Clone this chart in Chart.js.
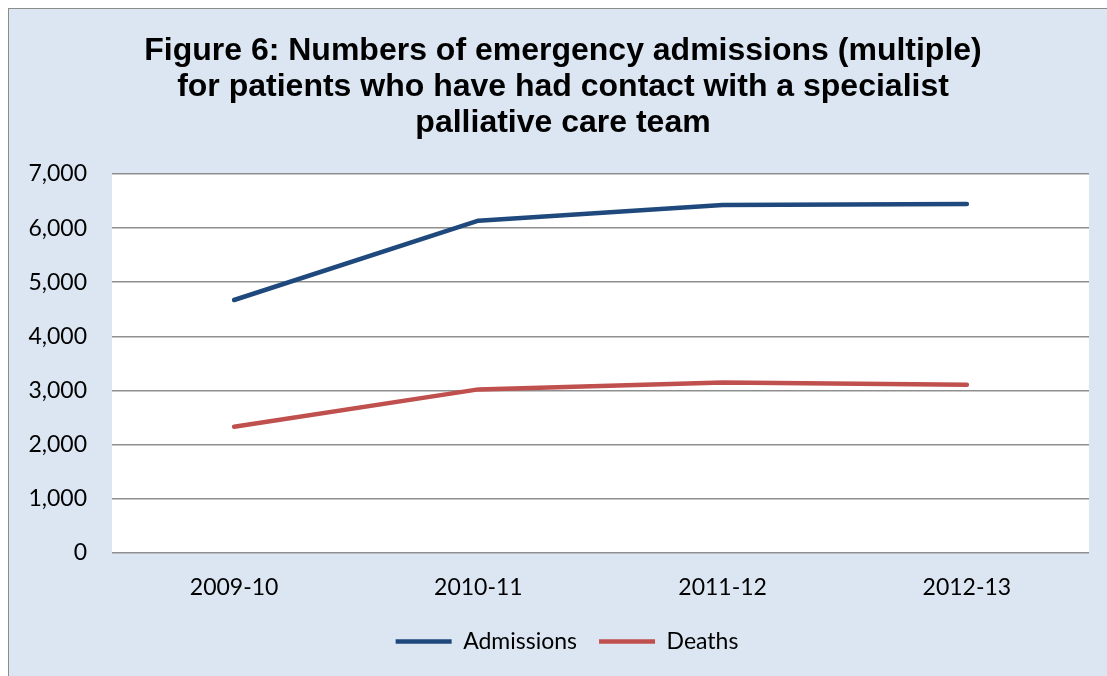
<!DOCTYPE html>
<html>
<head>
<meta charset="utf-8">
<script src="https://cdn.jsdelivr.net/npm/chart.js@4/dist/chart.umd.min.js"></script>
<style>
  html, body { margin: 0; padding: 0; background: #fff; overflow: hidden; }
  #wrap {
    position: absolute; left: 8px; top: 8px;
    width: 1099px; height: 668px;
    background: #dce6f2;
    border-left: 1px solid #8c8c8c; border-top: 1px solid #8c8c8c;
    box-sizing: border-box;
  }
</style>
</head>
<body>
<div id="wrap"><canvas id="chart" width="1098" height="667"></canvas></div>
<script>
// 데이터 ======================================
const years = ["2009-10", "2010-11", "2011-12", "2012-13"];
const admissions = [4673, 6138, 6428, 6446];
const deaths = [2333, 3022, 3151, 3109];
const titleLines = [
  "Figure 6: Numbers of emergency admissions (multiple)",
  "for patients who have had contact with a specialist",
  "palliative care team",
];

// 플롯 영역 흰 배경
const plotBg = {
  id: "plotBg",
  beforeDraw(chart) {
    const a = chart.chartArea;
    const ctx = chart.ctx;
    ctx.save();
    ctx.fillStyle = "#ffffff";
    ctx.fillRect(a.left, a.top, a.right - a.left, a.bottom - a.top);
    ctx.restore();
  },
};

// 제목/범례를 원본처럼 약간 오른쪽으로
const boxShift = {
  id: "boxShift",
  afterLayout(chart) {
    if (chart.titleBlock) {
      chart.titleBlock.left = 28;
      chart.titleBlock.right = chart.chartArea.right;
    }
    if (chart.legend) {
      chart.legend.left = 36;
      chart.legend.right = chart.chartArea.right;
    }
  },
};

const ctx = document.getElementById("chart").getContext("2d");
new Chart(ctx, {
  type: "line",
  data: {
    labels: years,
    datasets: [
      {
        label: "Admissions",
        data: admissions,
        borderColor: "#1f497d",
        backgroundColor: "#1f497d",
        borderWidth: 4.5,
        borderCapStyle: "round",
        borderJoinStyle: "round",
        pointRadius: 0,
        pointStyle: "line",
        tension: 0,
      },
      {
        label: "Deaths",
        data: deaths,
        borderColor: "#c0504d",
        backgroundColor: "#c0504d",
        borderWidth: 4.5,
        borderCapStyle: "round",
        borderJoinStyle: "round",
        pointRadius: 0,
        pointStyle: "line",
        tension: 0,
      },
    ],
  },
  options: {
    responsive: false,
    animation: false,
    layout: { padding: { top: 0, right: 18, bottom: 13, left: 0 } },
    plugins: {
      title: {
        display: true,
        text: titleLines,
        color: "#000",
        font: { family: "'Liberation Sans', Arial, sans-serif", size: 32, weight: "bold", lineHeight: 36 / 32 },
        padding: { top: 24, bottom: 33 },
      },
      legend: {
        position: "bottom",
        labels: {
          color: "#000",
          font: { family: "Lato, sans-serif", size: 23 },
          usePointStyle: true,
          pointStyle: "line",
          pointStyleWidth: 56,
          padding: 22,
        },
      },
      tooltip: { enabled: false },
    },
    scales: {
      x: {
        offset: true,
        grid: { display: false },
        border: { display: false },
        ticks: { color: "#000", font: { family: "Lato, sans-serif", size: 23 }, padding: 13 },
        afterFit(scale) { scale.height = 55; },
      },
      y: {
        min: 0,
        max: 7000,
        grid: { color: "#8f8f8f", lineWidth: 1.6, drawTicks: false },
        border: { display: false },
        ticks: {
          stepSize: 1000,
          color: "#000",
          padding: 25,
          font: { family: "Lato, sans-serif", size: 23 },
          callback: (v) => v.toLocaleString("en-US"),
        },
        afterFit(scale) { scale.width = 103; },
      },
    },
  },
  plugins: [plotBg, boxShift],
});
</script>
</body>
</html>
